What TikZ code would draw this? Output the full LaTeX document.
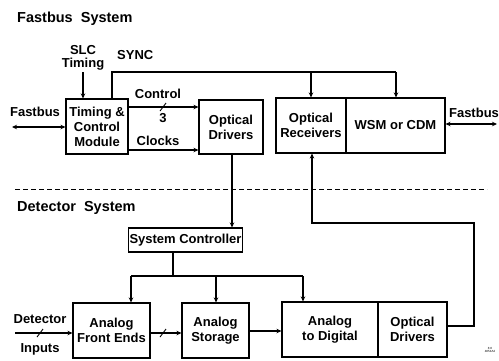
\documentclass[tikz,border=0pt]{standalone}
\usepackage{fontspec}
\setmainfont{Liberation Sans}
\usetikzlibrary{arrows.meta}
\begin{document}
\begin{tikzpicture}[x=1pt,y=-1pt,
 box/.style={draw, line width=1.1pt, inner sep=1pt, align=center, font=\bfseries\fontsize{13}{15}\selectfont},
 lbl/.style={font=\bfseries\fontsize{13}{13.5}\selectfont, inner sep=0pt, align=center},
 ttl/.style={font=\bfseries\fontsize{14.5}{16}\selectfont, inner sep=0pt, anchor=west},
 wire/.style={line width=1.1pt},
 arr/.style={wire, -{Stealth[length=5pt,width=4.5pt]}},
 darr/.style={wire, {Stealth[length=5pt,width=4.5pt]}-{Stealth[length=5pt,width=4.5pt]}},
 slash/.style={line width=0.9pt}]
\useasboundingbox (0,0) rectangle (499,360);

% titles
\node[ttl] (t1) at (17,19) {Fastbus\ \ System};
\node[ttl] (t2) at (17,208) {Detector\ \ System};

% boxes
\node[box, minimum width=62pt, minimum height=55pt] (tcm) at (97,126.5) {Timing \&\\Control\\Module};
\node[box, minimum width=64pt, minimum height=54pt] (od1) at (231,127) {Optical\\Drivers};
\node[box, minimum width=70pt, minimum height=55pt] (orx) at (311,125.5) {Optical\\Receivers};
\node[box, minimum width=99pt, minimum height=55pt] (wsm) at (395.5,125.5) {WSM or CDM};
\node[box, minimum width=111pt, minimum height=24pt] (sc) at (185.5,240) {System Controller};
\node[box, minimum width=77pt, minimum height=55pt] (afe) at (111.5,330.5) {Analog\\Front Ends};
\node[box, minimum width=67pt, minimum height=55pt] (ast) at (215.5,330.5) {Analog\\Storage};
\node[box, minimum width=96pt, minimum height=55pt] (a2d) at (330,329.5) {Analog\\to Digital};
\node[box, minimum width=69pt, minimum height=55pt] (od2) at (412.5,329.5) {Optical\\Drivers};

% labels
\node[lbl] (slct) at (83,58) {SLC\\Timing};
\node[lbl, anchor=west] (sync) at (117,55) {SYNC};
\node[lbl] (ctl) at (158,94) {Control};
\node[lbl] (three) at (163,118) {3};
\node[lbl] (clk) at (158,141) {Clocks};
\node[lbl] (fbl) at (35,112) {Fastbus};
\node[lbl] (fbr) at (474,113) {Fastbus};
\node[lbl] (det) at (40,319) {Detector};
\node[lbl] (inp) at (40,349) {Inputs};
\node[font=\fontsize{3}{3.5}\selectfont, align=center, inner sep=0pt] (code) at (490,350) {8 8\\4854A2};

% coordinates
\coordinate (slc) at (83,72);
\coordinate (s1) at (112,72);
\coordinate (s2) at (396,72);
\coordinate (c1) at (0,107);
\coordinate (c2) at (0,150);
\coordinate (fl) at (12,127);
\coordinate (fr) at (497,124);
\coordinate (v1) at (232,0);
\coordinate (b) at (173,276);
\coordinate (b1) at (131,276);
\coordinate (b2) at (216,276);
\coordinate (b3) at (303,276);
\coordinate (d0) at (15,333);
\coordinate (h1) at (0,333);
\coordinate (h2) at (0,331);
\coordinate (f1) at (474,326);
\coordinate (f2) at (474,223);
\coordinate (f3) at (312,223);

% top connectors
\draw[arr] (slc) -- (slc |- tcm.north);
\draw[wire] (s1 |- tcm.north) -- (s1) -- (s2);
\draw[arr] (s2) -- (s2 |- wsm.north);
\draw[arr] (orx.north |- s1) -- (orx.north);
\draw[arr] (tcm.east |- c1) -- (od1.west |- c1);
\draw[slash] (160,111) -- (166,103);
\draw[arr] (tcm.east |- c2) -- (od1.west |- c2);
\draw[darr] (fl) -- (fl -| tcm.west);
\draw[darr] (fr -| wsm.east) -- (fr);

% divider
\draw[line width=1pt, dash pattern=on 5pt off 3pt] (15,189) -- (487,189);

% lower connectors
\draw[arr] (od1.south -| v1) -- (sc.north -| v1);
\draw[wire] (sc.south -| b) -- (b);
\draw[wire] (b1) -- (b3);
\draw[arr] (b1) -- (b1 |- afe.north);
\draw[arr] (b2) -- (b2 |- ast.north);
\draw[arr] (b3) -- (b3 |- a2d.north);
\draw[arr] (d0) -- (d0 -| afe.west);
\draw[slash] (37,337) -- (43,329);
\draw[arr] (afe.east |- h1) -- (ast.west |- h1);
\draw[slash] (160,337) -- (166,329);
\draw[arr] (ast.east |- h2) -- (a2d.west |- h2);
\draw[arr] (od2.east |- f1) -- (f1) -- (f2) -- (f3) -- (f3 |- orx.south);
\end{tikzpicture}
\end{document}
